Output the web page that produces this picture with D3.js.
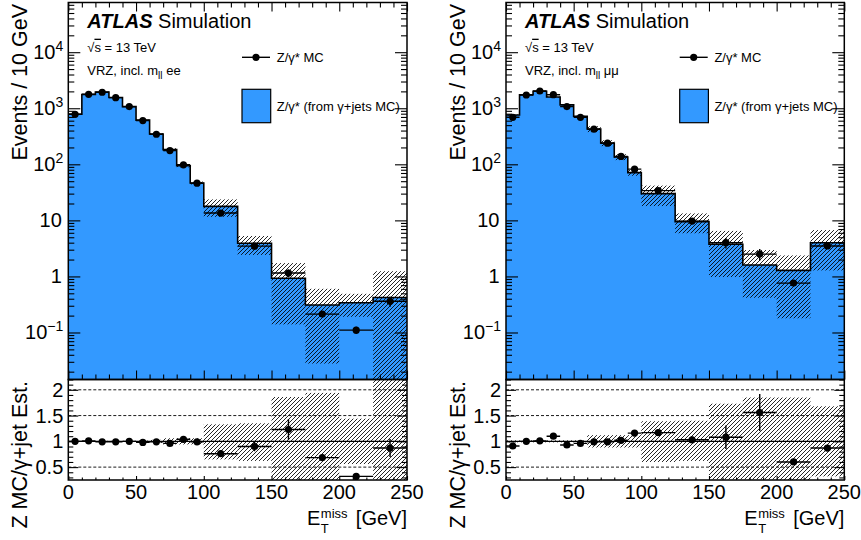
<!DOCTYPE html>
<html>
<head>
<meta charset="utf-8">
<script src="https://cdn.jsdelivr.net/npm/d3@7"></script>
<style>
  body { margin: 0; background: #fff; }
  svg { display: block; }
  text { font-family: "Liberation Sans", Arial, Helvetica, sans-serif; fill: #000; }
</style>
</head>
<body>
<svg id="chart" width="861" height="540"></svg>
<script>
// Bin edges in ETmiss [GeV]: 10 GeV bins up to 100, then 25 GeV bins
const binEdges = [0, 10, 20, 30, 40, 50, 60, 70, 80, 90, 100, 125, 150, 175, 200, 225, 250];

// ee channel
const mcEE     = [780, 1775, 1930, 1545, 1070, 603, 344, 176, 98, 46, 13.5, 3.47, 1.15, 0.213, 0.11, 0.36];
const estEE    = [780, 1757, 1950, 1560, 1070, 615, 347, 183, 94, 46.5, 17.8, 3.9, 0.93, 0.31, 0.34, 0.42];
const ratioEE  = [1.0, 1.01, 0.99, 0.99, 1.0, 0.98, 0.99, 0.96, 1.04, 0.99, 0.76, 0.90, 1.23, 0.685, 0.32, 0.87];
const mcRelErrEE = [0.005, 0.005, 0.005, 0.005, 0.006, 0.008, 0.01, 0.015, 0.02, 0.03, 0.05, 0.1, 0.16, 0.05, 0.15, 0.2];
const bandLoEE = [0.01, 0.01, 0.01, 0.01, 0.01, 0.015, 0.03, 0.06, 0.06, 0.06, 0.35, 0.38, 0.85, 0.91, 0.44, 1.0];
const bandHiEE = [0.01, 0.01, 0.01, 0.01, 0.01, 0.015, 0.03, 0.06, 0.06, 0.06, 0.33, 0.35, 0.86, 0.94, 0.44, 1.95];

// mumu channel
const mcMM     = [690, 1725, 2030, 1745, 1070, 690, 423, 238, 138, 82, 34, 9.7, 4.0, 2.5, 0.76, 3.5];
const estMM    = [758, 1740, 2010, 1590, 1150, 720, 427, 240, 135, 71, 30, 9.5, 3.75, 1.6, 1.28, 4.0];
const ratioMM  = [0.91, 1.0, 1.01, 1.10, 0.93, 0.96, 0.99, 0.99, 1.02, 1.16, 1.17, 1.03, 1.08, 1.56, 0.60, 0.87];
const mcRelErrMM = [0.005, 0.005, 0.005, 0.005, 0.006, 0.008, 0.01, 0.015, 0.02, 0.03, 0.05, 0.06, 0.21, 0.23, 0.06, 0.04];
const bandLoMM = [0.02, 0.02, 0.02, 0.02, 0.02, 0.02, 0.12, 0.12, 0.12, 0.12, 0.40, 0.38, 0.74, 0.74, 0.86, 0.68];
const bandHiMM = [0.02, 0.02, 0.02, 0.02, 0.02, 0.02, 0.12, 0.12, 0.12, 0.12, 0.39, 0.40, 0.73, 0.85, 0.85, 0.68];

// Axis ticks
const xMajorTicks = [0, 50, 100, 150, 200, 250];
const yDecades = [0.1, 1, 10, 100, 1000, 10000];
const ratioTicks = [0.5, 1, 1.5, 2];
const ratioDashed = [0.5, 1.5, 2];

const BLUE = "#3399ff";
const TOP = 2.5, MID = 379.5, BOT = 480;

const svg = d3.select("#chart");
const defs = svg.append("defs");

// diagonal hatch used for the estimate uncertainty
defs.append("pattern")
  .attr("id", "hatch")
  .attr("patternUnits", "userSpaceOnUse")
  .attr("width", 4).attr("height", 4)
  .append("path")
  .attr("d", "M-1,1 l2,-2 M0,4 l4,-4 M3,5 l2,-2")
  .attr("stroke", "#000").attr("stroke-width", 0.85);

const panels = [
  { id: "ee", x0: 68.3, x1: 407, chan: "ee", mc: mcEE, est: estEE, ratio: ratioEE,
    mcErr: mcRelErrEE, bandLo: bandLoEE, bandHi: bandHiEE },
  { id: "mm", x0: 506, x1: 844.3, chan: "μμ", mc: mcMM, est: estMM, ratio: ratioMM,
    mcErr: mcRelErrMM, bandLo: bandLoMM, bandHi: bandHiMM }
];

function drawPanel(p) {
  const g = svg.append("g");
  const x = d3.scaleLinear().domain([0, 250]).range([p.x0, p.x1]);
  const yT = d3.scaleLog().domain([0.0145, 7.7e4]).range([MID, TOP]);
  const yR = d3.scaleLinear().domain([0.25, 2.2]).range([BOT, MID]);

  defs.append("clipPath").attr("id", "clipT" + p.id)
    .append("rect").attr("x", p.x0).attr("y", TOP).attr("width", p.x1 - p.x0).attr("height", MID - TOP);
  defs.append("clipPath").attr("id", "clipR" + p.id)
    .append("rect").attr("x", p.x0).attr("y", MID).attr("width", p.x1 - p.x0).attr("height", BOT - MID);

  const bins = d3.range(binEdges.length - 1).map(i => ({
    lo: binEdges[i], hi: binEdges[i + 1], c: (binEdges[i] + binEdges[i + 1]) / 2,
    est: p.est[i], mc: p.mc[i], ratio: p.ratio[i],
    mcErr: p.mcErr[i], bLo: p.bandLo[i], bHi: p.bandHi[i]
  }));
  const stepPts = bins.map(b => [b.lo, b.est]).concat([[250, bins[bins.length - 1].est]]);

  // ---------- upper pad ----------
  const top = g.append("g").attr("clip-path", `url(#clipT${p.id})`);
  top.append("path")
    .datum(stepPts)
    .attr("fill", BLUE)
    .attr("d", d3.area().curve(d3.curveStepAfter).x(d => x(d[0])).y0(MID).y1(d => yT(d[1])));

  top.selectAll("rect.band").data(bins).join("rect")
    .attr("class", "band")
    .attr("x", b => x(b.lo)).attr("width", b => x(b.hi) - x(b.lo))
    .attr("y", b => yT(b.est * (1 + b.bHi)))
    .attr("height", b => {
      const lo = b.est * (1 - b.bLo);
      const yl = lo > 1e-4 ? yT(lo) : MID + 5;
      return yl - yT(b.est * (1 + b.bHi));
    })
    .attr("fill", "url(#hatch)");

  top.append("path")
    .datum(stepPts)
    .attr("fill", "none").attr("stroke", "#000").attr("stroke-width", 1.6)
    .attr("d", d3.line().curve(d3.curveStepAfter).x(d => x(d[0])).y(d => yT(d[1])));

  top.selectAll("line.xerr").data(bins).join("line")
    .attr("x1", b => x(b.lo)).attr("x2", b => x(b.hi))
    .attr("y1", b => yT(b.mc)).attr("y2", b => yT(b.mc))
    .attr("stroke", "#000").attr("stroke-width", 1.4);
  top.selectAll("line.yerr").data(bins).join("line")
    .attr("x1", b => x(b.c)).attr("x2", b => x(b.c))
    .attr("y1", b => yT(b.mc * (1 + b.mcErr))).attr("y2", b => yT(b.mc * (1 - b.mcErr)))
    .attr("stroke", "#000").attr("stroke-width", 1.4);
  top.selectAll("circle").data(bins).join("circle")
    .attr("cx", b => x(b.c)).attr("cy", b => yT(b.mc)).attr("r", 3.6).attr("fill", "#000");

  // ---------- ratio pad ----------
  const rat = g.append("g").attr("clip-path", `url(#clipR${p.id})`);
  rat.selectAll("rect.band").data(bins).join("rect")
    .attr("class", "band")
    .attr("x", b => x(b.lo)).attr("width", b => x(b.hi) - x(b.lo))
    .attr("y", b => yR(1 + b.bHi))
    .attr("height", b => yR(1 - b.bLo) - yR(1 + b.bHi))
    .attr("fill", "url(#hatch)");
  rat.selectAll("line.grid").data(ratioDashed).join("line")
    .attr("x1", p.x0).attr("x2", p.x1).attr("y1", d => yR(d)).attr("y2", d => yR(d))
    .attr("stroke", "#000").attr("stroke-width", 0.9).attr("stroke-dasharray", "3,2");
  rat.append("line")
    .attr("x1", p.x0).attr("x2", p.x1).attr("y1", yR(1)).attr("y2", yR(1))
    .attr("stroke", "#000").attr("stroke-width", 1.1);
  rat.selectAll("line.xerr").data(bins).join("line")
    .attr("x1", b => x(b.lo)).attr("x2", b => x(b.hi))
    .attr("y1", b => yR(b.ratio)).attr("y2", b => yR(b.ratio))
    .attr("stroke", "#000").attr("stroke-width", 1.4);
  rat.selectAll("line.yerr").data(bins).join("line")
    .attr("x1", b => x(b.c)).attr("x2", b => x(b.c))
    .attr("y1", b => yR(b.ratio * (1 + b.mcErr))).attr("y2", b => yR(b.ratio * (1 - b.mcErr)))
    .attr("stroke", "#000").attr("stroke-width", 1.4);
  rat.selectAll("circle").data(bins).join("circle")
    .attr("cx", b => x(b.c)).attr("cy", b => yR(b.ratio)).attr("r", 3.6).attr("fill", "#000");

  // ---------- axes (ticks drawn inward on all sides) ----------
  const xMinor = d3.range(0, 251, 10).filter(v => v % 50 !== 0);
  const yMinor = yT.ticks().filter(v => {
    const l = Math.log10(v);
    return Math.abs(l - Math.round(l)) > 1e-6;
  });
  const ax = g.append("g");
  function ticks(axisGen, tx, ty) {
    const a = ax.append("g").attr("transform", `translate(${tx},${ty})`).call(axisGen);
    a.select(".domain").remove();
    a.selectAll("text").remove();
    a.selectAll("line").attr("stroke", "#000").attr("stroke-width", 1.1);
  }
  // upper pad
  ticks(d3.axisTop(x).tickValues(xMajorTicks).tickSize(9), 0, MID);
  ticks(d3.axisTop(x).tickValues(xMinor).tickSize(5), 0, MID);
  ticks(d3.axisBottom(x).tickValues(xMajorTicks).tickSize(9), 0, TOP);
  ticks(d3.axisBottom(x).tickValues(xMinor).tickSize(5), 0, TOP);
  ticks(d3.axisRight(yT).tickValues(yDecades).tickSize(12), p.x0, 0);
  ticks(d3.axisRight(yT).tickValues(yMinor).tickSize(6), p.x0, 0);
  ticks(d3.axisLeft(yT).tickValues(yDecades).tickSize(12), p.x1, 0);
  ticks(d3.axisLeft(yT).tickValues(yMinor).tickSize(6), p.x1, 0);
  // ratio pad
  const rMinor = d3.range(0.3, 2.21, 0.1).map(v => +v.toFixed(1)).filter(v => Math.abs(v * 2 - Math.round(v * 2)) > 1e-6);
  ticks(d3.axisTop(x).tickValues(xMajorTicks).tickSize(4), 0, BOT);
  ticks(d3.axisTop(x).tickValues(xMinor).tickSize(2.5), 0, BOT);
  ticks(d3.axisRight(yR).tickValues(ratioTicks).tickSize(10), p.x0, 0);
  ticks(d3.axisRight(yR).tickValues(rMinor).tickSize(5), p.x0, 0);
  ticks(d3.axisLeft(yR).tickValues(ratioTicks).tickSize(10), p.x1, 0);
  ticks(d3.axisLeft(yR).tickValues(rMinor).tickSize(5), p.x1, 0);

  // frames
  g.append("rect").attr("x", p.x0).attr("y", TOP).attr("width", p.x1 - p.x0).attr("height", MID - TOP)
    .attr("fill", "none").attr("stroke", "#000").attr("stroke-width", 1.5);
  g.append("rect").attr("x", p.x0).attr("y", MID).attr("width", p.x1 - p.x0).attr("height", BOT - MID)
    .attr("fill", "none").attr("stroke", "#000").attr("stroke-width", 1.5);

  // ---------- tick labels ----------
  const lab = g.append("g").attr("font-size", 20);
  yDecades.forEach(v => {
    const e = Math.round(Math.log10(v));
    const t = lab.append("text").attr("x", p.x0 - 5).attr("y", yT(v) + 7).attr("text-anchor", "end");
    if (e === 0 || e === 1) {
      t.text(e === 0 ? "1" : "10").attr("x", p.x0 - 6.5);
    } else {
      t.append("tspan").text("10");
      t.append("tspan").attr("font-size", 14).attr("dy", -8).text(e < 0 ? "\u2212" + (-e) : String(e));
    }
  });
  ratioTicks.forEach(v => {
    lab.append("text").attr("x", p.x0 - 5).attr("y", yR(v) + 7).attr("text-anchor", "end")
      .text(d3.format("~g")(v));
  });
  xMajorTicks.forEach(v => {
    lab.append("text").attr("x", x(v)).attr("y", 498.5).attr("text-anchor", "middle").text(String(v));
  });

  // ---------- axis titles ----------
  g.append("text").attr("transform", `translate(${p.x0 - 41.3},4) rotate(-90)`)
    .attr("text-anchor", "end").attr("font-size", 21.5).text("Events / 10 GeV");
  g.append("text").attr("transform", `translate(${p.x0 - 41.3},381) rotate(-90)`)
    .attr("text-anchor", "end").attr("font-size", 21.5).text("Z MC/\u03b3+jet Est.");
  // E_T^miss [GeV], right-aligned to the axis end
  const unit = g.append("text").attr("x", p.x1).attr("y", 525).attr("text-anchor", "end")
    .attr("font-size", 20).text("[GeV]");
  const unitW = unit.node().getComputedTextLength();
  const missX = p.x1 - unitW - 35;
  g.append("text").attr("x", missX).attr("y", 518).attr("font-size", 13).text("miss");
  g.append("text").attr("x", missX).attr("y", 532.5).attr("font-size", 13).text("T");
  g.append("text").attr("x", missX - 0.5).attr("y", 525).attr("text-anchor", "end")
    .attr("font-size", 20).text("E");

  // ---------- labels ----------
  const atl = g.append("text").attr("x", p.x0 + 19).attr("y", 28.3).attr("font-size", 20);
  atl.append("tspan").attr("font-weight", "bold").attr("font-style", "italic").text("ATLAS");
  atl.append("tspan").text(" Simulation");

  const s = g.append("text").attr("x", p.x0 + 19).attr("y", 51.7).attr("font-size", 13);
  s.append("tspan").text("\u221a");
  s.append("tspan").style("text-decoration", "overline").text("s");
  s.append("tspan").text(" = 13 TeV");

  const r = g.append("text").attr("x", p.x0 + 19).attr("y", 74.5).attr("font-size", 13);
  r.append("tspan").text("VRZ, incl. m");
  r.append("tspan").attr("font-size", 10).attr("dy", 4).text("ll");
  r.append("tspan").attr("dy", -4).text(" " + p.chan);

  // ---------- legend ----------
  const lx = p.x0 + 173.7;
  g.append("line").attr("x1", lx).attr("x2", lx + 28).attr("y1", 57.3).attr("y2", 57.3)
    .attr("stroke", "#000").attr("stroke-width", 1.4);
  g.append("circle").attr("cx", lx + 14).attr("cy", 57.3).attr("r", 3.6).attr("fill", "#000");
  g.append("text").attr("x", lx + 34.7).attr("y", 62).attr("font-size", 13).text("Z/\u03b3* MC");
  g.append("rect").attr("x", lx).attr("y", 89.3).attr("width", 28.7).attr("height", 33.4)
    .attr("fill", BLUE).attr("stroke", "#000").attr("stroke-width", 1.2);
  g.append("text").attr("x", lx + 34.7).attr("y", 110.5).attr("font-size", 13)
    .text("Z/\u03b3* (from \u03b3+jets MC)");
}

panels.forEach(drawPanel);
</script>
</body>
</html>
